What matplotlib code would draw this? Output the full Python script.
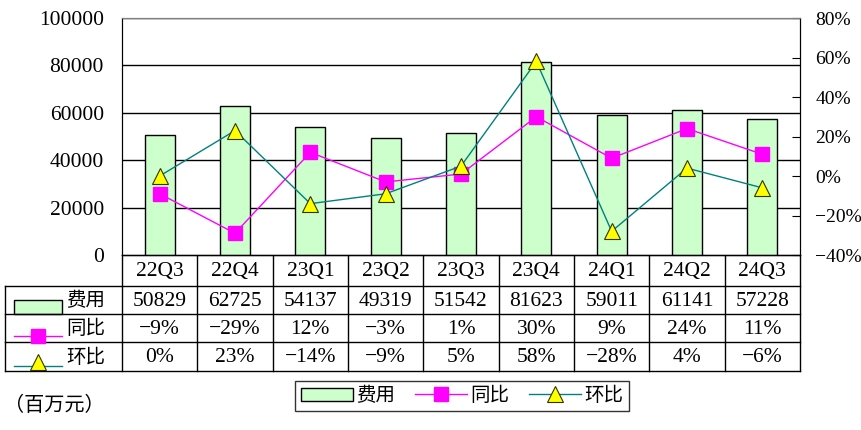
import matplotlib.pyplot as plt
from matplotlib.lines import Line2D
from matplotlib.patches import Rectangle
from matplotlib.ticker import FuncFormatter

quarters = ["22Q3", "22Q4", "23Q1", "23Q2", "23Q3", "23Q4", "24Q1", "24Q2", "24Q3"]
expense = [50829, 62725, 54137, 49319, 51542, 81623, 59011, 61141, 57228]
yoy = [-9, -29, 12, -3, 1, 30, 9, 24, 11]
qoq = [0, 23, -14, -9, 5, 58, -28, 4, -6]

FONT = ["Liberation Serif", "Noto Sans CJK SC"]
plt.rcParams["font.family"] = FONT
FS = 15.5
FS_CJK = 14
GREEN = "#ccffcc"
MAGENTA = "#ff00ff"
TEAL = "#008080"
YELLOW = "#ffff00"

W, H = 862, 430
fig = plt.figure(figsize=(W / 100, H / 100), dpi=100)

# plot area in pixels
L, R, T, B = 122, 800, 18, 255


def fx(px):
    return px / W


def fy(py):
    return 1 - py / H


def pct(v):
    return f"{v:.0f}%".replace("-", "\u2212")


ax = fig.add_axes([fx(L), fy(B), fx(R - L), (B - T) / H])
x = list(range(len(quarters)))
ax.bar(x, expense, width=0.4, color=GREEN, edgecolor="black", linewidth=1, zorder=2)
ax.set_xlim(-0.5, len(quarters) - 0.5)
ax.set_ylim(0, 100000)
ax.set_yticks(range(0, 100001, 20000))
ax.yaxis.grid(True, color="black", linewidth=1)
ax.set_axisbelow(True)
ax.set_xticks([])
ax.tick_params(axis="y", length=0, pad=13, labelsize=FS)
ax.spines["top"].set_color("#808080")

ax2 = ax.twinx()
ax2.plot(x, [v / 100 for v in yoy], color=MAGENTA, linewidth=1, marker="s",
         markersize=10, markerfacecolor=MAGENTA, markeredgecolor=MAGENTA, zorder=3)
ax2.plot(x, [v / 100 for v in qoq], color=TEAL, linewidth=1, marker="^",
         markersize=11, markerfacecolor=YELLOW, markeredgecolor="#333300",
         markeredgewidth=0.8, zorder=3)
ax2.set_ylim(-0.4, 0.8)
ax2.set_yticks([-0.4, -0.2, 0, 0.2, 0.4, 0.6, 0.8])
ax2.yaxis.set_major_formatter(FuncFormatter(lambda v, p: pct(v * 100)))
ax2.tick_params(axis="y", direction="in", length=6, pad=11, labelsize=14)
ax2.spines["top"].set_color("#808080")

# data table drawn in pixel coordinates
tb = fig.add_axes([0, 0, 1, 1], zorder=-1)
tb.set_xlim(0, W)
tb.set_ylim(H, 0)
tb.axis("off")

cw = (R - L) / len(quarters)
rows = [255, 286, 314, 342, 371]
lk = dict(color="black", linewidth=1)
tb.plot([L, R], [rows[0], rows[0]], **lk)
for yy in rows[1:]:
    tb.plot([5, R], [yy, yy], **lk)
tb.plot([5, 5], [rows[1], rows[-1]], **lk)
for k in range(len(quarters) + 1):
    xx = L + k * cw
    tb.plot([xx, xx], [rows[0], rows[-1]], **lk)

row_texts = [quarters, [str(v) for v in expense],
             [pct(v) for v in yoy], [pct(v) for v in qoq]]
for r, texts in enumerate(row_texts):
    yc = (rows[r] + rows[r + 1]) / 2 + 1
    for i, t in enumerate(texts):
        tb.text(L + (i + 0.5) * cw, yc, t, ha="center", va="center", fontsize=FS)

# row keys
tb.add_patch(Rectangle((14, 300), 48, 14, facecolor=GREEN, edgecolor="black", linewidth=1))
tb.add_line(Line2D([14, 62], [336, 336], color=MAGENTA, linewidth=1))
tb.add_line(Line2D([38], [336], marker="s", markersize=10, color=MAGENTA))
tb.add_line(Line2D([14, 62], [366, 366], color=TEAL, linewidth=1))
tb.add_line(Line2D([38], [362], marker="^", markersize=11, markerfacecolor=YELLOW,
                   markeredgecolor="#333300", markeredgewidth=0.8))
for name, r in zip(["费用", "同比", "环比"], [1, 2, 3]):
    tb.text(66, (rows[r] + rows[r + 1]) / 2 + 1, name, ha="left", va="center",
            fontsize=FS_CJK)

tb.text(4, 406, "（百万元）", ha="left", va="center", fontsize=14.5)

handles = [
    Rectangle((0, 0), 1, 1, facecolor=GREEN, edgecolor="black", linewidth=1),
    Line2D([], [], color=MAGENTA, linewidth=1, marker="s", markersize=10),
    Line2D([], [], color=TEAL, linewidth=1, marker="^", markersize=11,
           markerfacecolor=YELLOW, markeredgecolor="#333300", markeredgewidth=0.8),
]
leg = fig.legend(handles, ["费用", "同比", "环比"], loc="center",
                 bbox_to_anchor=(fx(462), fy(396)), ncol=3, frameon=True,
                 fancybox=False, edgecolor="black", handlelength=2.7,
                 handletextpad=0.15, columnspacing=1.0, borderpad=0.3,
                 prop={"size": FS_CJK})
leg.get_frame().set_linewidth(1)

fig.savefig("out.png", dpi=100)
